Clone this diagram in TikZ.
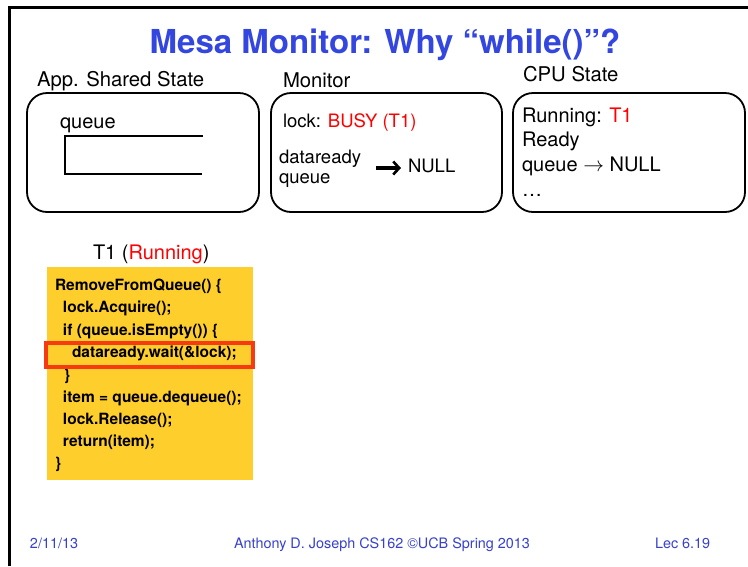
\documentclass[tikz,border=0pt]{standalone}
\usepackage{fontspec}
\setmainfont{TeX Gyre Heros}
\usetikzlibrary{arrows.meta}
\definecolor{titleblue}{RGB}{52,70,224}
\definecolor{footblue}{RGB}{55,65,205}
\definecolor{busyred}{RGB}{255,0,0}
\definecolor{codeyellow}{RGB}{254,206,44}
\definecolor{hlred}{RGB}{246,58,18}
\begin{document}
\begin{tikzpicture}[x=1pt,y=-1pt,
  txt/.style={anchor=base west, inner sep=0pt, outer sep=0pt},
  hdr/.style={txt, font=\fontsize{20.3}{23}\selectfont},
  big/.style={txt, font=\fontsize{20}{23}\selectfont},
  mon/.style={txt, font=\fontsize{18.5}{21}\selectfont},
  code/.style={txt, font=\bfseries\fontsize{15.5}{18}\selectfont},
  foot/.style={txt, text=footblue, font=\fontsize{14.4}{16}\selectfont},
  statebox/.style={draw, line width=1.8pt, rounded corners=20pt, inner sep=0pt},
  marrow/.style={line width=3.2pt, -{Straight Barb[length=6pt,width=13pt,line width=2.6pt]}}
]
\useasboundingbox (0,0) rectangle (748,566);
\fill[white] (0,0) rectangle (748,566);
% slide frame
\draw[line width=3pt] (9.5,566) -- (9.5,7) -- (748,7);

% title
\node[anchor=base, inner sep=0pt, text=titleblue, font=\bfseries\fontsize{33}{36}\selectfont] (title) at (385,53) {Mesa Monitor: Why “while()”?};

% headers
\node[hdr] (hshared) at (37,86) {App. Shared State};
\node[hdr] (hmon) at (283,87) {Monitor};
\node[hdr] (hcpu) at (523,81) {CPU State};

% boxes
\node[statebox, minimum width=232pt, minimum height=119pt] (shared) at (143,152.5) {};
\node[statebox, minimum width=231pt, minimum height=119pt] (monitor) at (386.5,152.5) {};
\node[statebox, minimum width=232pt, minimum height=119pt] (cpu) at (629,152.5) {};

% shared state content
\node[big] (qlabel) at (60,128) {queue};
\coordinate (qtr) at (203,136);
\coordinate (qtl) at (65,136);
\coordinate (qbl) at (65,174);
\coordinate (qbr) at (202,174);
\draw[line width=1.8pt] (qtr) -- (qtl) -- (qbl) -- (qbr);

% monitor content
\node[mon] (lock) at (283,127) {lock: \textcolor{busyred}{BUSY (T1)}};
\node[mon] (dq1) at (279,163) {dataready};
\node[mon] (dq2) at (279,183) {queue};
\node[mon] (null) at (408,172) {NULL};
\coordinate (arrS) at (376,168);
\draw[marrow, shorten >=7pt] (arrS) -- (arrS -| null.west);

% cpu content
\node[big] (run) at (522,122.5) {Running: \textcolor{busyred}{T1}};
\node[big] (ready) at (522,146.5) {Ready};
\node[big] (rq) at (522,171.5) {queue $\rightarrow$ NULL};
\node[big] (dots) at (522,196.5) {…};

% thread
\node[big] (t1) at (93,259.5) {T1 (\textcolor{busyred}{Running})};
\node[fill=codeyellow, inner sep=0pt, minimum width=206pt, minimum height=213pt] (codebox) at (150,373.5) {};
\node[code] (c1) at (55,290) {RemoveFromQueue() \{};
\node[code] (c2) at (63,312.5) {lock.Acquire();};
\node[code] (c3) at (63,335) {if (queue.isEmpty()) \{};
\node[code] (c4) at (72,357.5) {dataready.wait(\&lock);};
\node[code] (c5) at (64,380) {\}};
\node[code] (c6) at (63,402) {item = queue.dequeue();};
\node[code] (c7) at (63,424.5) {lock.Release();};
\node[code] (c8) at (63,446) {return(item);};
\node[code] (c9) at (55,468) {\}};
\node[draw=hlred, line width=4pt, inner sep=0pt, minimum width=207pt, minimum height=24pt] (hl) at (149.5,355) {};

% footer
\node[foot] (fdate) at (30,548) {2/11/13};
\node[foot] (fauth) at (234,548) {Anthony D. Joseph CS162 ©UCB Spring 2013};
\node[foot] (flec) at (655,548) {Lec 6.19};
\end{tikzpicture}
\end{document}
